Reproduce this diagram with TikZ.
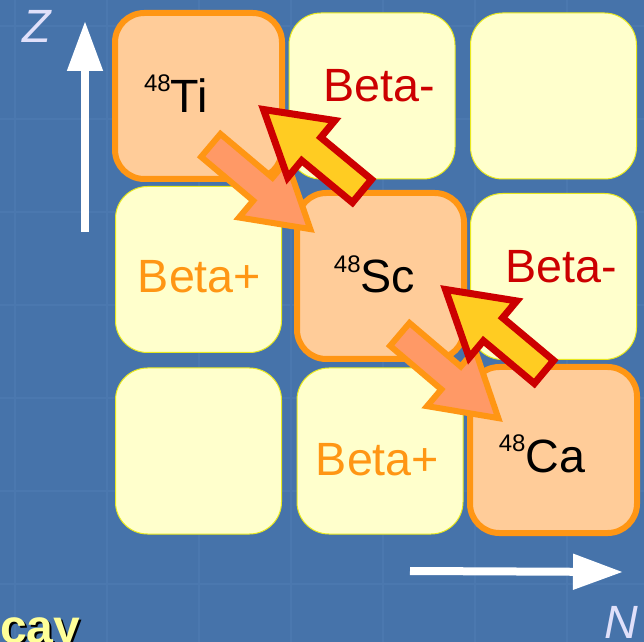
\documentclass[tikz,border=0pt]{standalone}
\usepackage{fontspec}
\setmainfont{Liberation Sans}
\usetikzlibrary{calc,arrows.meta}

\definecolor{bgblue}{RGB}{70,115,170}
\definecolor{gridblue}{RGB}{75,120,175}
\definecolor{cellfill}{RGB}{255,255,204}
\definecolor{cellline}{RGB}{232,232,30}
\definecolor{nucfill}{RGB}{255,204,153}
\definecolor{nucline}{RGB}{255,150,20}
\definecolor{bpfill}{RGB}{255,153,102}
\definecolor{bmfill}{RGB}{255,204,34}
\definecolor{bmline}{RGB}{204,0,0}
\definecolor{axislbl}{RGB}{224,224,250}
\definecolor{capyellow}{RGB}{255,255,153}

% mass number raised in front of the element symbol
\newcommand{\iso}[2]{\raisebox{15.75pt}{\fontsize{18}{18}\selectfont #1}#2}

\tikzset{
  cell/.style={draw=cellline, line width=0.75pt, fill=cellfill, rounded corners=24pt,
    minimum width=124.5pt, minimum height=124.5pt, inner sep=0pt},
  nuclide/.style={cell, draw=nucline, fill=nucfill, line width=4.5pt, rounded corners=22pt,
    minimum width=125.25pt},
  lbl/.style={anchor=base, inner sep=0pt, font=\fontsize{35}{40}\selectfont},
  axlbl/.style={inner sep=0pt, text=axislbl, font=\fontsize{35}{40}\selectfont\itshape},
  axis/.style={white, line width=6pt, -{Triangle[width=25.5pt,length=37.5pt]}},
  gridline/.style={gridblue, line width=1pt},
  % fat block arrow between two points
  decay/.style={line join=miter, miter limit=10,
    to path={let \p1=($(\tikztotarget)-(\tikztostart)$), \n1={atan2(\y1,\x1)} in
      ($(\tikztostart)+(\n1+90:11.25pt)$)
      -- ($(\tikztotarget)+(\n1+180:46.5pt)+(\n1+90:11.25pt)$)
      -- ($(\tikztotarget)+(\n1+180:46.5pt)+(\n1+90:27.75pt)$)
      -- (\tikztotarget)
      -- ($(\tikztotarget)+(\n1+180:46.5pt)+(\n1-90:27.75pt)$)
      -- ($(\tikztotarget)+(\n1+180:46.5pt)+(\n1-90:11.25pt)$)
      -- ($(\tikztostart)+(\n1-90:11.25pt)$) -- cycle}},
  bparrow/.style={decay, fill=bpfill, draw=nucline, line width=4.5pt},
  bmarrow/.style={decay, fill=bmfill, draw=bmline, line width=5.25pt},
}

\begin{document}
\begin{tikzpicture}[x=0.75pt,y=-0.75pt]
\useasboundingbox (0,0) rectangle (644,642);
\clip (0,0) rectangle (644,642);
\fill[bgblue] (0,0) rectangle (644,642);
\foreach \g in {0,...,6}
{
	\draw[gridline] ({15+92*\g},0) -- ({15+92*\g},642);
	\draw[gridline] (0,{26+93*\g}) -- (644,{26+93*\g});
}

% empty and decay-mode cells
\foreach \nm/\x/\y in {tb/372/96, tr/553.5/96, ml/198.5/269.5, mr/553.5/276.5, bl/198.5/451, bm/380/451}
	\node[cell] (\nm) at (\x,\y) {};
\node[nuclide] (ti) at (198.5,96) {};
\node[nuclide] (sc) at (380.5,276) {};
\node[nuclide] (ca) at (553.5,450) {};

\node[lbl] (ti-lbl) at ($(ti)+(-22.5,17)$) {\iso{48}{Ti}};
\node[lbl] (sc-lbl) at ($(sc)+(-6,17)$) {\iso{48}{Sc}};
\node[lbl] (ca-lbl) at ($(ca)+(-11.5,22)$) {\iso{48}{Ca}};
\node[lbl, text=bmline] (tb-lbl) at ($(tb)+(7,6)$) {Beta-};
\node[lbl, text=bmline] (mr-lbl) at ($(mr)+(7.5,6.5)$) {Beta-};
\node[lbl, text=nucline] (ml-lbl) at ($(ml)+(1,23.5)$) {Beta+};
\node[lbl, text=nucline] (bm-lbl) at ($(bm)+(-2.5,24)$) {Beta+};

% decay arrows
\coordinate (bp1a) at (210.8,145.4);
\coordinate (bp1b) at (310.3,229.1);
\coordinate (bp2a) at (399.8,334.4);
\coordinate (bp2b) at (498.3,418.1);
\coordinate (bm1a) at (544,372);
\coordinate (bm1b) at (445.5,289.5);
\coordinate (bm2a) at (362,191);
\coordinate (bm2b) at (263.5,109.5);
\draw[bparrow] (bp1a) to (bp1b);
\draw[bparrow] (bp2a) to (bp2b);
\draw[bmarrow] (bm1a) to (bm1b);
\draw[bmarrow] (bm2a) to (bm2b);

% axes
\coordinate (z0) at (85,232);
\coordinate (z1) at (85,21);
\coordinate (n0) at (410,571);
\coordinate (n1) at (623,572);
\draw[axis] (z0) -- (z1);
\draw[axis] (n0) -- (n1);
\node[axlbl] (zlbl) at (37,26) {Z};
\node[axlbl] (nlbl) at (621,622) {N};

\node[anchor=base west, inner sep=0pt, font=\fontsize{36}{40}\selectfont\bfseries, text=black] (cay-sh) at (2,645) {cay};
\node[anchor=base west, inner sep=0pt, font=\fontsize{36}{40}\selectfont\bfseries, text=capyellow] (cay) at (0,643) {cay};
\end{tikzpicture}
\end{document}
